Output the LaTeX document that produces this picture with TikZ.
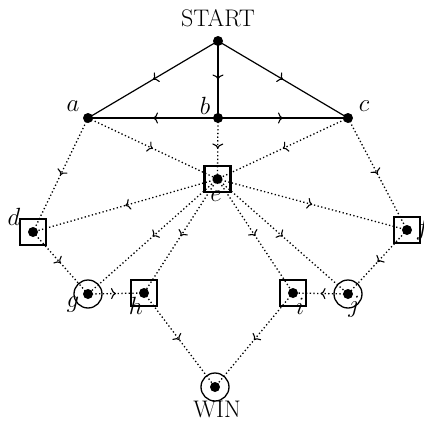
\documentclass[tikz,border=0pt]{standalone}
\usetikzlibrary{decorations.markings,arrows.meta}
\begin{document}
\begin{tikzpicture}[x=1pt,y=-1pt,
  dotnode/.style={circle,fill=black,inner sep=0pt,minimum size=10pt},
  boxnode/.style={draw,line width=2.4pt,minimum size=26pt,inner sep=0pt,
    path picture={\fill (path picture bounding box.center) circle (5pt);}},
  ringnode/.style={circle,draw,line width=1.3pt,minimum size=28pt,inner sep=0pt,
    path picture={\fill (path picture bounding box.center) circle (5pt);}},
  lbl/.style={font=\fontsize{24}{28}\selectfont,inner sep=0pt},
  midarrow/.style={postaction={decorate,decoration={markings,
    mark=at position 0.5 with {\arrow[solid,line width=1.1pt]{Computer Modern Rightarrow[length=5pt,width=11pt]}}}}},
  solidedge/.style={line width=1.2pt,midarrow},
  dotedge/.style={line width=1.3pt,dash pattern=on 1.3pt off 2.4pt,midarrow}
]
\useasboundingbox (0,0) rectangle (424,421);
% labels
\node[lbl] (lS) at (218,18) {START};
\node[lbl] (la) at (73,106) {$a$};
\node[lbl] (lb) at (205,106) {$b$};
\node[lbl] (lc) at (364,106) {$c$};
\node[lbl] (ld) at (14,217) {$d$};
\node[lbl] (le) at (216,196) {$e$};
\node[lbl] (lf) at (423,229) {$f$};
\node[lbl] (lg) at (73,305) {$g$};
\node[lbl] (lh) at (136,306) {$h$};
\node[lbl] (li) at (300,306) {$i$};
\node[lbl] (lj) at (354,307) {$j$};
\node[lbl] (lW) at (217,409) {WIN};
% nodes
\node[dotnode] (S) at (218,41) {};
\node[dotnode] (a) at (88,118) {};
\node[dotnode] (b) at (218,118) {};
\node[dotnode] (c) at (348,118) {};
\node[boxnode] (e) at (217.5,179) {};
\node[boxnode] (d) at (33,232) {};
\node[boxnode] (f) at (407,230) {};
\node[ringnode] (g) at (88,294) {};
\node[boxnode] (h) at (144,293) {};
\node[boxnode] (i) at (293,293) {};
\node[ringnode] (j) at (348,294) {};
\node[ringnode] (W) at (215,387) {};
% solid edges
\draw[solidedge] (S.center) -- (a.center);
\draw[solidedge] (S.center) -- (b.center);
\draw[solidedge] (S.center) -- (c.center);
\draw[solidedge] (b.center) -- (a.center);
\draw[solidedge] (b.center) -- (c.center);
% dotted edges
\draw[dotedge] (a.center) -- (d.center);
\draw[dotedge] (a.center) -- (e.center);
\draw[dotedge] (b.center) -- (e.center);
\draw[dotedge] (c.center) -- (e.center);
\draw[dotedge] (c.center) -- (f.center);
\draw[dotedge] (e.center) -- (d.center);
\draw[dotedge] (e.center) -- (f.center);
\draw[dotedge] (e.center) -- (g.center);
\draw[dotedge] (e.center) -- (h.center);
\draw[dotedge] (e.center) -- (i.center);
\draw[dotedge] (e.center) -- (j.center);
\draw[dotedge] (d.center) -- (g.center);
\draw[dotedge] (f.center) -- (j.center);
\draw[dotedge] (g.center) -- (h.center);
\draw[dotedge] (j.center) -- (i.center);
\draw[dotedge] (h.center) -- (W.center);
\draw[dotedge] (i.center) -- (W.center);
\end{tikzpicture}
\end{document}
